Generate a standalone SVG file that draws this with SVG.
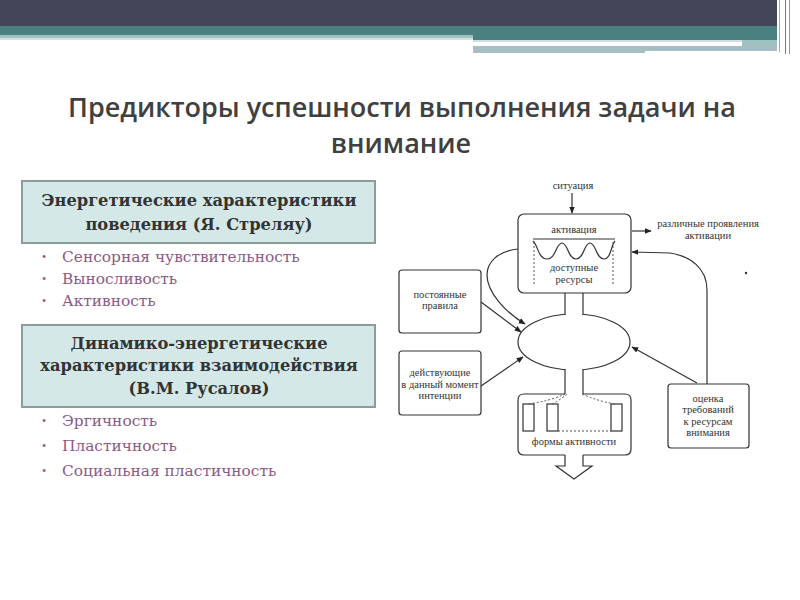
<svg xmlns="http://www.w3.org/2000/svg" width="800" height="600" viewBox="0 0 800 600">
<style>
.title{font-family:"Open Sans","DejaVu Sans",sans-serif;font-size:27px;font-weight:600;fill:#404040;text-anchor:middle}
.hbox{fill:#d4e8e8;stroke:#8c9c9c;stroke-width:2}
.htxt{font-family:"DejaVu Serif",serif;font-weight:bold;font-size:16.3px;fill:#333;text-anchor:middle}
.bul{font-family:"DejaVu Serif",serif;font-size:15.4px;fill:#8a5a88}
.dot{font-family:"Liberation Serif",serif;font-size:12px;fill:#8a5a88}
.ln{fill:none;stroke:#333;stroke-width:1.2}
.bx{fill:#fff;stroke:#333;stroke-width:1.2}
.dsh{fill:none;stroke:#555;stroke-width:1;stroke-dasharray:2 2}
.dt{font-family:"Liberation Serif",serif;font-size:10.5px;fill:#333;text-anchor:middle}
</style>
<defs>
<marker id="ah" viewBox="0 0 10 10" refX="9" refY="5" markerWidth="7" markerHeight="7" orient="auto" markerUnits="userSpaceOnUse">
<path d="M0,1 L10,5 L0,9 Z" fill="#222"/>
</marker>
</defs>
<rect width="800" height="600" fill="#fff"/>
<g id="header">
<rect x="0" y="0" width="777" height="26" fill="#424457"/>
<rect x="0" y="26" width="777" height="9" fill="#4a8080"/>
<rect x="473" y="35" width="304" height="5" fill="#4a8080"/>
<rect x="0" y="35" width="473" height="3" fill="#9fc1c3"/>
<rect x="0" y="38" width="473" height="2" fill="#d3e3e4"/>
<rect x="742" y="40" width="35" height="10" fill="#9fc1c3"/>
<rect x="473" y="40" width="269" height="2" fill="#cfe0e0"/>
<rect x="473" y="46" width="172" height="7" fill="#a7bfc2"/>
<rect x="645" y="46" width="97" height="5" fill="#a7bfc2"/>
<rect x="742" y="46" width="35" height="5" fill="#a7bfc2"/>
<line x1="779.5" y1="0" x2="779.5" y2="52" stroke="#9aa" stroke-width="1"/>
<line x1="785.5" y1="0" x2="785.5" y2="54" stroke="#777" stroke-width="1"/>
<line x1="789.5" y1="0" x2="789.5" y2="54" stroke="#999" stroke-width="1"/>
</g>
<g id="title">
<text class="title" x="402" y="117">Предикторы успешности выполнения задачи на</text>
<text class="title" x="401" y="153">внимание</text>
</g>
<g id="box1">
<rect class="hbox" x="22" y="181" width="353" height="62"/>
<text class="htxt" x="199" y="206">Энергетические характеристики</text>
<text class="htxt" x="199" y="230">поведения (Я. Стреляу)</text>
</g>
<g id="list1">
<text class="dot" x="42" y="261">•</text><text class="bul" x="62" y="262">Сенсорная чувствительность</text>
<text class="dot" x="42" y="283">•</text><text class="bul" x="62" y="284">Выносливость</text>
<text class="dot" x="42" y="305">•</text><text class="bul" x="62" y="306">Активность</text>
</g>
<g id="box2">
<rect class="hbox" x="22" y="325" width="353" height="82"/>
<text class="htxt" x="199" y="349">Динамико-энергетические</text>
<text class="htxt" x="199" y="371">характеристики взаимодействия</text>
<text class="htxt" x="199" y="394">(В.М. Русалов)</text>
</g>
<g id="list2">
<text class="dot" x="42" y="425">•</text><text class="bul" x="62" y="426">Эргичность</text>
<text class="dot" x="42" y="450">•</text><text class="bul" x="62" y="451">Пластичность</text>
<text class="dot" x="42" y="475">•</text><text class="bul" x="62" y="476">Социальная пластичность</text>
</g>
<g id="situation"><text class="dt" x="573" y="189">ситуация</text></g>
<g id="activation">
<rect class="bx" x="518" y="214" width="113" height="79" rx="6"/>
<text class="dt" x="574" y="233">активация</text>
<line class="ln" x1="533" y1="239" x2="615" y2="239"/>
<path class="ln" d="M533,241 C538,245 538,259 547,259 C556,259 556,243 562,243 C568,243 568,259 576,259 C584,259 584,243 590,243 C596,243 596,259 604,259 C611,259 611,245 615,241"/>
<line class="dsh" x1="534" y1="242" x2="534" y2="284"/>
<line class="dsh" x1="613" y1="242" x2="613" y2="284"/>
<text class="dt" x="574" y="271">доступные</text>
<text class="dt" x="574" y="283">ресурсы</text>
</g>
<g id="variants"><text class="dt" x="708" y="227">различные проявления</text><text class="dt" x="708" y="239">активации</text></g>
<g id="core">
<ellipse class="bx" cx="574" cy="342" rx="56" ry="28"/>
<rect x="565.6" y="312" width="16.8" height="60" fill="#fff"/>
<line class="ln" x1="565" y1="293" x2="565" y2="314.5"/>
<line class="ln" x1="583" y1="293" x2="583" y2="314.5"/>
<line class="ln" x1="565" y1="369.5" x2="565" y2="394"/>
<line class="ln" x1="583" y1="369.5" x2="583" y2="394"/>
</g>
<g id="forms">
<path class="ln" d="M565,394 L524,394 Q518,394 518,400 L518,449 Q518,455 524,455 L565,455 M583,455 L625,455 Q631,455 631,449 L631,400 Q631,394 625,394 L583,394"/>
<rect class="bx" x="523" y="404" width="11" height="27"/>
<rect class="bx" x="547" y="404" width="11" height="27"/>
<rect class="bx" x="611" y="404" width="11" height="27"/>
<path class="dsh" d="M565,394 Q550,401 528,404"/>
<path class="dsh" d="M567,394 Q560,400 552,404"/>
<path class="dsh" d="M582,394 Q600,402 616,404"/>
<line class="dsh" x1="558" y1="431" x2="611" y2="431"/>
<text class="dt" x="574" y="445">формы активности</text>
<path class="ln" d="M565,455 L565,466 L556,466 L574,479 L592,466 L583,466 L583,455"/>
</g>
<g id="rules">
<rect class="bx" x="399" y="270" width="82" height="63" rx="3"/>
<text class="dt" x="440" y="298">постоянные</text>
<text class="dt" x="440" y="309">правила</text>
</g>
<g id="intentions">
<rect class="bx" x="399" y="351" width="82" height="64" rx="3"/>
<text class="dt" x="440" y="376">действующие</text>
<text class="dt" x="440" y="388">в данный момент</text>
<text class="dt" x="440" y="399">интенции</text>
</g>
<g id="assessment">
<rect class="bx" x="668" y="384" width="81" height="64" rx="3"/>
<text class="dt" x="708" y="402">оценка</text>
<text class="dt" x="708" y="413">требований</text>
<text class="dt" x="708" y="425">к ресурсам</text>
<text class="dt" x="708" y="436">внимания</text>
</g>
<g id="connectors">
<line class="ln" x1="572" y1="193" x2="572" y2="213" marker-end="url(#ah)"/>
<line class="ln" x1="632" y1="231" x2="651" y2="231" marker-end="url(#ah)"/>
<path class="ln" d="M518,249 C498,251 487,262 487,275 C487,292 505,312 525,324" marker-end="url(#ah)"/>
<line class="ln" x1="481" y1="302" x2="521" y2="332" marker-end="url(#ah)"/>
<line class="ln" x1="481" y1="386" x2="523" y2="357" marker-end="url(#ah)"/>
<line class="ln" x1="697" y1="383" x2="632" y2="347" marker-end="url(#ah)"/>
<path class="ln" d="M707,384 L707,290 C707,268 690,256 670,253 L632,252" marker-end="url(#ah)"/>
</g>
<circle cx="746" cy="273" r="1.2" fill="#333"/>
</svg>
